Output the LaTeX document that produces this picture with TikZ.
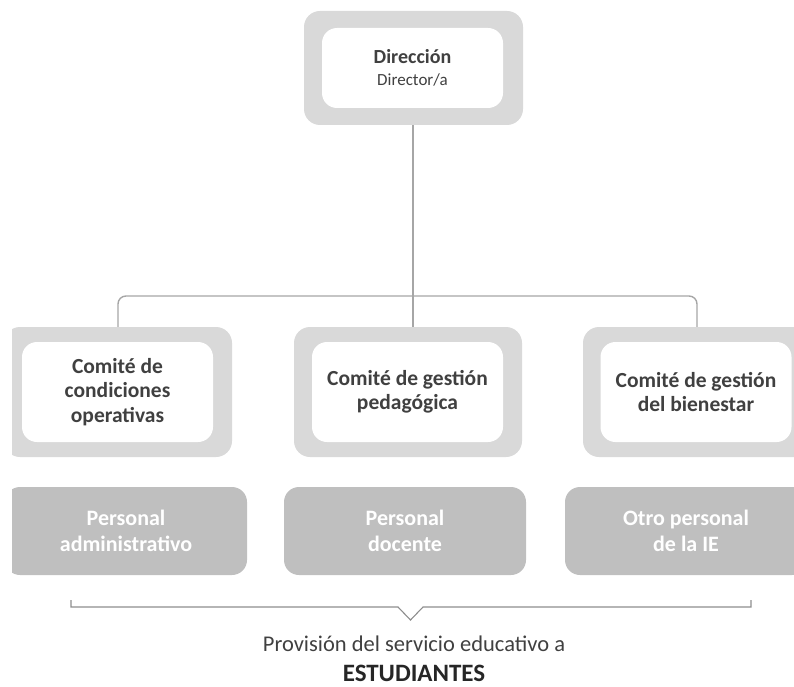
\documentclass[tikz,border=0pt]{standalone}
\usepackage{fontspec}
\setmainfont{Carlito}
\definecolor{outergray}{HTML}{D9D9D9}
\definecolor{persgray}{HTML}{BFBFBF}
\definecolor{txtgray}{HTML}{404040}
\definecolor{linegray}{HTML}{A6A6A6}
\begin{document}
\begin{tikzpicture}[x=1pt,y=-1pt,
  outerbox/.style={fill=outergray,draw=none,rounded corners=16pt,inner sep=0pt},
  innerbox/.style={fill=white,draw=none,rounded corners=15pt,inner sep=0pt,align=center,
     text=txtgray,font=\fontsize{21.5}{24.5}\selectfont\bfseries},
  persbox/.style={fill=persgray,draw=none,rounded corners=15pt,inner sep=0pt,align=center,
     text=white,font=\fontsize{22}{26}\selectfont\bfseries,minimum width=242pt,minimum height=88pt},
  conn/.style={draw=linegray,line width=1.4pt,rounded corners=8pt},
  brk/.style={draw=linegray!85!black,line width=1.1pt},
  lbl/.style={inner sep=0pt,anchor=base}]
\useasboundingbox (0,0) rectangle (794,687);
\begin{scope}
\clip (12,0) rectangle (794,687);
% top box
\node[outerbox,minimum width=219pt,minimum height=114pt] (dirO) at (413.5,68) {};
\node[innerbox,minimum width=181pt,minimum height=80pt] (dirI) at (412.5,68) {};
\node[lbl,text=txtgray,font=\fontsize{20}{24}\selectfont\bfseries] (dirT) at (412.5,64) {Dirección};
\node[lbl,text=txtgray,font=\fontsize{17}{20}\selectfont] (dirS) at (412.5,86) {Director/a};
% committees
\node[outerbox,minimum width=228pt,minimum height=130pt] (c1O) at (118,392) {};
\node[outerbox,minimum width=228pt,minimum height=130pt] (c2O) at (408,392) {};
\node[outerbox,minimum width=228pt,minimum height=130pt] (c3O) at (697,392) {};
\node[innerbox,minimum width=191pt,minimum height=100pt] (c1) at (117.5,392) {Comité de\\condiciones\\operativas};
\node[innerbox,minimum width=191pt,minimum height=100pt] (c2) at (407.5,392) {Comité de gestión\\pedagógica};
\node[innerbox,minimum width=191pt,minimum height=100pt] (c3) at (696,392) {Comité de gestión\\del bienestar};
% personal
\node[persbox] (p1) at (126,531) {Personal\\administrativo};
\node[persbox] (p2) at (405,531) {Personal\\docente};
\node[persbox] (p3) at (686,531) {Otro personal\\de la IE};
% connectors
\coordinate (hy) at (413,296);
\draw[conn,rounded corners=0pt] (dirO.south -| hy) -- (c2O.north -| hy);
\draw[conn] (c1O.north) -- (c1O.north |- hy) -- (c3O.north |- hy) -- (c3O.north);
% bracket
\coordinate (bl) at (71,600);
\coordinate (br) at (751,600);
\coordinate (tip) at (410.5,620);
\draw[brk] (bl) -- ++(0,7) -- (398,607) -- (tip) -- (423,607) -- (br |- 0,607) -- (br);
\end{scope}
\node[lbl,text=txtgray,font=\fontsize{22.5}{26}\selectfont] (prov) at (414,651) {Provisión del servicio educativo a};
\node[lbl,text=black!85,font=\fontsize{25}{29}\selectfont\bfseries] (est) at (414,681) {ESTUDIANTES};
\end{tikzpicture}
\end{document}
